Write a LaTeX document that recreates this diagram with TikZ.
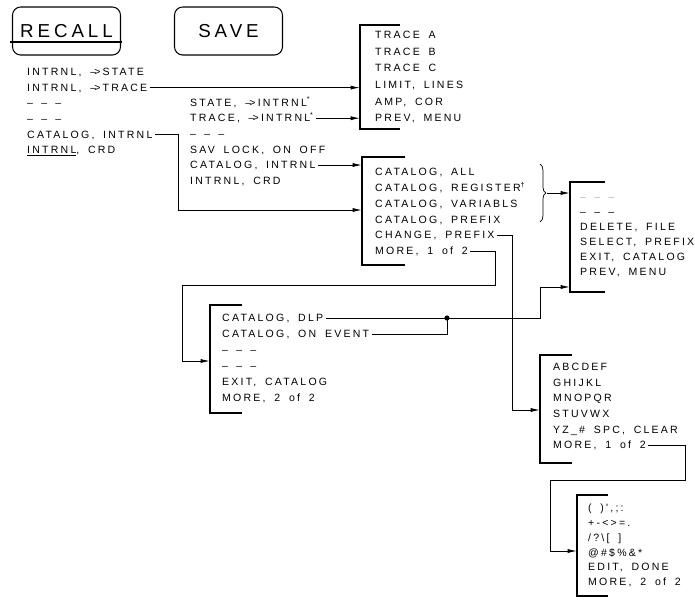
\documentclass[tikz,border=0pt]{standalone}
\usepackage{fontspec}
\setmainfont{Liberation Sans}
\newfontfamily\hpfont[LetterSpace=21,WordSpace=1.7]{Liberation Sans}
\usetikzlibrary{arrows.meta,positioning,decorations.pathreplacing}

\newcommand\dsh{–\hskip7pt–\hskip7pt–}
\newcommand\toarr{–\kern-1.6pt>}

\tikzset{
  item/.style={anchor=west,inner sep=0pt,text height=6.4pt,text depth=0pt,
    font=\hpfont\fontsize{9}{10}\selectfont},
  keybox/.style={draw,rounded corners=7pt,line width=0.9pt,
    minimum width=3.24cm,minimum height=1.44cm,
    font=\hpfont\fontsize{16}{18}\selectfont},
  menubox/.style={line width=1pt},
  link/.style={line width=0.8pt},
  arr/.style={link,-{Latex[length=8pt,width=3.5pt]}},
  brace/.style={decorate,decoration={brace,amplitude=5pt},line width=0.6pt}
}

\begin{document}
\begin{tikzpicture}[x=0.03cm,y=-0.03cm]
  \useasboundingbox (0,0) rectangle (695,603);

  % hard keys
  \node[keybox] (recall) at (66.5,31) {RECALL};
  \node[keybox] (save) at (228.5,31) {SAVE};
  \draw[line width=1.6pt] ([xshift=-2pt,yshift=-0.33cm]recall.west)
    -- ([xshift=1pt,yshift=-0.33cm]recall.east);

  % recall and save menus
  \foreach \t [count=\i] in {{INTRNL, \toarr STATE},{INTRNL, \toarr TRACE},{\dsh},{\dsh},
      {CATALOG, INTRNL},{\underline{INTRNL}, CRD}}
    \node[item] (rc\i) at (27,{56.4+15.6*\i}) {\t};
  \foreach \t [count=\i] in {{STATE, \toarr INTRNL\textsuperscript{*}},
      {TRACE, \toarr INTRNL\textsuperscript{*}},{\dsh},{SAV LOCK, ON OFF},
      {CATALOG, INTRNL},{INTRNL, CRD}}
    \node[item] (sv\i) at (190,{87+15.6*\i}) {\t};

  % trace menu
  \coordinate (trL) at (360,25);
  \draw[menubox] (trL) ++(40,0) -- (trL) -- ++(0,104) -- ++(40,0);
  \foreach \t [count=\i] in {{TRACE A},{TRACE B},{TRACE C},{LIMIT, LINES},
      {AMP, COR},{PREV, MENU}}
    \node[item] (tr\i) at (375,{18.4+16.6*\i}) {\t};

  % catalog menu 1
  \coordinate (ctL) at (362,157);
  \draw[menubox] (ctL) ++(43,0) -- (ctL) -- ++(0,108) -- ++(43,0);
  \foreach \t [count=\i] in {{CATALOG, ALL},{CATALOG, REGISTER\textsuperscript{\dag}},
      {CATALOG, VARIABLS},{CATALOG, PREFIX},{CHANGE, PREFIX},{MORE, 1 of 2}}
    \node[item] (ct\i) at (375,{156.2+15.8*\i}) {\t};
  \draw[brace] (540,164) -- (540,222);
  \coordinate (brtip) at (547,193);

  % delete menu
  \coordinate (dlL) at (570,182);
  \draw[menubox] (dlL) ++(35,0) -- (dlL) -- ++(0,110) -- ++(35,0);
  \foreach \t [count=\i] in {{\color{black!30}\dsh},{\dsh},{DELETE, FILE},{SELECT, PREFIX},
      {EXIT, CATALOG},{PREV, MENU}}
    \node[item] (dl\i) at (580,{182+15*\i}) {\t};

  % catalog menu 2
  \coordinate (c2L) at (210,305);
  \draw[menubox] (c2L) ++(32,0) -- (c2L) -- ++(0,108) -- ++(32,0);
  \foreach \t [count=\i] in {{CATALOG, DLP},{CATALOG, ON EVENT},{\dsh},{\dsh},
      {EXIT, CATALOG},{MORE, 2 of 2}}
    \node[item] (c2\i) at (222,{302+16*\i}) {\t};

  % title menus
  \coordinate (alL) at (540,355);
  \draw[menubox] (alL) ++(32,0) -- (alL) -- ++(0,108) -- ++(32,0);
  \foreach \t [count=\i] in {ABCDEF,GHIJKL,MNOPQR,STUVWX,{YZ\_\# SPC, CLEAR},
      {MORE, 1 of 2}}
    \node[item] (al\i) at (553,{351.4+15.6*\i}) {\t};
  \coordinate (syL) at (577,495);
  \draw[menubox] (syL) ++(31,0) -- (syL) -- ++(0,101) -- ++(31,0);
  \foreach \t [count=\i] in {{( )',;:},{+-<>=.},{/?\textbackslash[ ]},
      {@\#\$\%\&*},{EDIT, DONE},{MORE, 2 of 2}}
    \node[item] (sy\i) at (588,{493.2+14.8*\i}) {\t};

  % bends
  \coordinate (bendA) at (178,210);
  \coordinate (bendC) at (512,410);
  \coordinate (bendM) at (495,285);
  \coordinate (bendD) at (182,361);
  \coordinate (bendE) at (540,287);
  \coordinate (dot) at (447,318);
  \coordinate (bendF) at (685,480);
  \coordinate (bendG) at (550,551);

  % connectors
  \draw[arr] ([xshift=2pt]rc2.east) -- (rc2 -| trL);
  \draw[arr] ([xshift=2pt]sv2.east) -- (sv2 -| trL);
  \draw[arr] ([xshift=2pt]sv5.east) -- (sv5 -| ctL);
  \draw[arr] ([xshift=2pt]rc5.east) -| (bendA) -- (bendA -| ctL);
  \draw[arr] (brtip) -- (brtip -| dlL);
  \draw[arr] ([xshift=2pt]ct5.east) -| (bendC) -- (bendC -| alL);
  \draw[arr] ([xshift=2pt]ct6.east) -| (bendM) -| (bendD) -- (bendD -| c2L);
  \draw[arr] ([xshift=2pt]c21.east) -| (bendE) -- (bendE -| dlL);
  \draw[link] ([xshift=2pt]c22.east) -| (dot);
  \fill (dot) circle (2.2pt);
  \draw[arr] ([xshift=2pt]al6.east) -| (bendF) -| (bendG) -- (bendG -| syL);
\end{tikzpicture}
\end{document}
